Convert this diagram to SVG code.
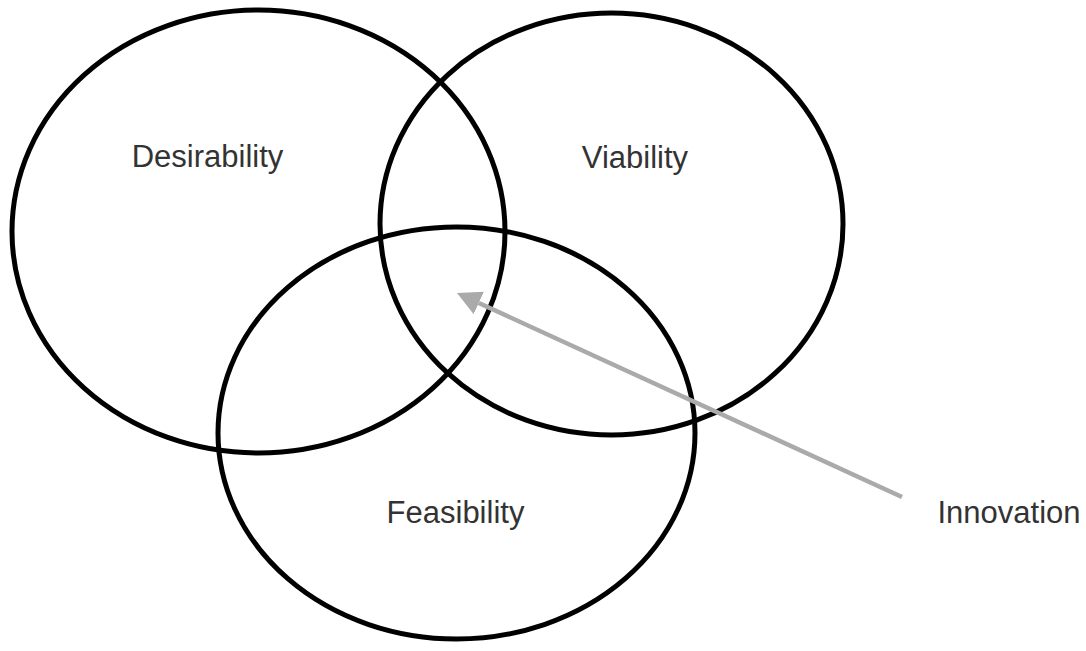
<svg xmlns="http://www.w3.org/2000/svg" width="1086" height="651" viewBox="0 0 1086 651">
<style>
.set{fill:none;stroke:#000;stroke-width:5}
.lbl{font-family:"Liberation Sans",Arial,sans-serif;font-size:31px;fill:#333;text-anchor:middle}
.conn{stroke:#aaa;stroke-width:4.5;fill:none}
</style>
<defs>
<marker id="ah" viewBox="0 0 24 24.6" markerWidth="24" markerHeight="24.6" refX="0" refY="12.3" orient="auto" markerUnits="userSpaceOnUse">
<path d="M0,0 L24,12.3 L0,24.6 z" fill="#aaa"/>
</marker>
</defs>
<rect width="1086" height="651" fill="#fff"/>
<g id="desirability">
<ellipse class="set" cx="258.5" cy="231.5" rx="246.5" ry="221.5"/>
<text class="lbl" x="207.5" y="167">Desirability</text>
</g>
<g id="viability">
<ellipse class="set" cx="611.5" cy="224" rx="231.5" ry="211"/>
<text class="lbl" x="635" y="168">Viability</text>
</g>
<g id="feasibility">
<ellipse class="set" cx="456.5" cy="433" rx="238.5" ry="206"/>
<text class="lbl" x="455.5" y="523">Feasibility</text>
</g>
<g id="innovation">
<text class="lbl" x="1009" y="523">Innovation</text>
</g>
<g id="connectors">
<line class="conn" x1="902" y1="497" x2="478.8" y2="303" marker-end="url(#ah)"/>
</g>
</svg>
